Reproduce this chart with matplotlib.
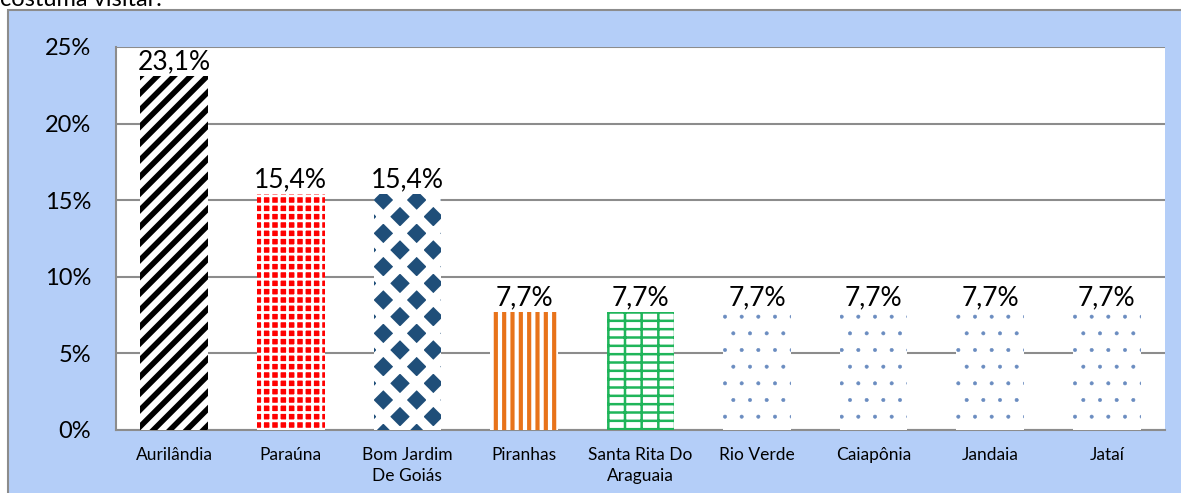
import matplotlib.pyplot as plt
from matplotlib.patches import Rectangle
from matplotlib.ticker import FuncFormatter

# Данные
cidades = ['Aurilândia', 'Paraúna', 'Bom Jardim\nDe Goiás', 'Piranhas',
           'Santa Rita Do\nAraguaia', 'Rio Verde', 'Caiapônia', 'Jandaia', 'Jataí']
valores = [23.1, 15.4, 15.4, 7.7, 7.7, 7.7, 7.7, 7.7, 7.7]
rotulos = ['23,1%', '15,4%', '15,4%', '7,7%', '7,7%', '7,7%', '7,7%', '7,7%', '7,7%']

# Заливка столбцов: (фон, цвет штриховки, штриховка, толщина)
stili = [
    ('white', 'black', '//', 4.0),
    ('#FF0000', 'white', '++', 2.0),
    ('white', '#1F4E79', 'x', 7.0),
    ('white', '#E8731A', '||', 3.0),
    ('white', '#1FB55A', '--|', 1.8),
    ('white', '#6A8CC0', '.', 0.4),
    ('white', '#6A8CC0', '.', 0.4),
    ('white', '#6A8CC0', '.', 0.4),
    ('white', '#6A8CC0', '.', 0.4),
]

plt.rcParams['font.family'] = ['Lato', 'DejaVu Sans']

fig = plt.figure(figsize=(11.81, 4.93), dpi=100)
fig.patch.set_facecolor('white')

# Голубая рамка вокруг диаграммы
fig.patches.append(Rectangle((8 / 1181, -0.05), 1.1, 1 - 10 / 493 + 0.05,
                             transform=fig.transFigure, facecolor='#B4CEF8',
                             edgecolor='#8C8C8C', linewidth=1.5, zorder=-5))

# Обрезанный текст сверху
fig.text(0.0, 1.0, 'costuma visitar.', fontsize=17, ha='left', va='center')

ax = fig.add_axes([116 / 1181, 1 - 430 / 493, 1049 / 1181, 383 / 493])
ax.set_facecolor('white')

x = range(len(cidades))
for i, (v, (fc, hc, h, lw)) in enumerate(zip(valores, stili)):
    if h == 'x':
        # ромбы: тёмный фон и белые толстые диагонали
        b = ax.bar(i, v, width=0.58, color=hc, edgecolor='white', hatch=h, linewidth=0, zorder=3)
    else:
        b = ax.bar(i, v, width=0.58, color=fc, edgecolor=hc, hatch=h, linewidth=0, zorder=3)
    for p in b:
        if hasattr(p, 'set_hatch_linewidth'):
            p.set_hatch_linewidth(lw)
    ax.text(i, v + 0.1, rotulos[i], ha='center', va='bottom', fontsize=19, zorder=4)

ax.set_xlim(-0.5, len(cidades) - 0.5)
ax.set_ylim(0, 25)
ax.set_yticks([0, 5, 10, 15, 20, 25])
ax.yaxis.set_major_formatter(FuncFormatter(lambda v, p: f'{v:.0f}%'))
ax.set_xticks(list(x))
ax.set_xticklabels(cidades, fontsize=12.5, linespacing=1.4)
ax.tick_params(axis='y', labelsize=17, length=0, pad=18)
ax.tick_params(axis='x', length=0, pad=12)

ax.grid(axis='y', color='#8C8C8C', linewidth=1.5, zorder=1)
ax.set_axisbelow(True)
for s in ['top', 'right']:
    ax.spines[s].set_visible(False)
ax.spines['left'].set_color('#8C8C8C')
ax.spines['bottom'].set_color('#8C8C8C')
ax.spines['left'].set_linewidth(1.5)
ax.spines['bottom'].set_linewidth(1.5)

fig.savefig('out.png', dpi=100)
